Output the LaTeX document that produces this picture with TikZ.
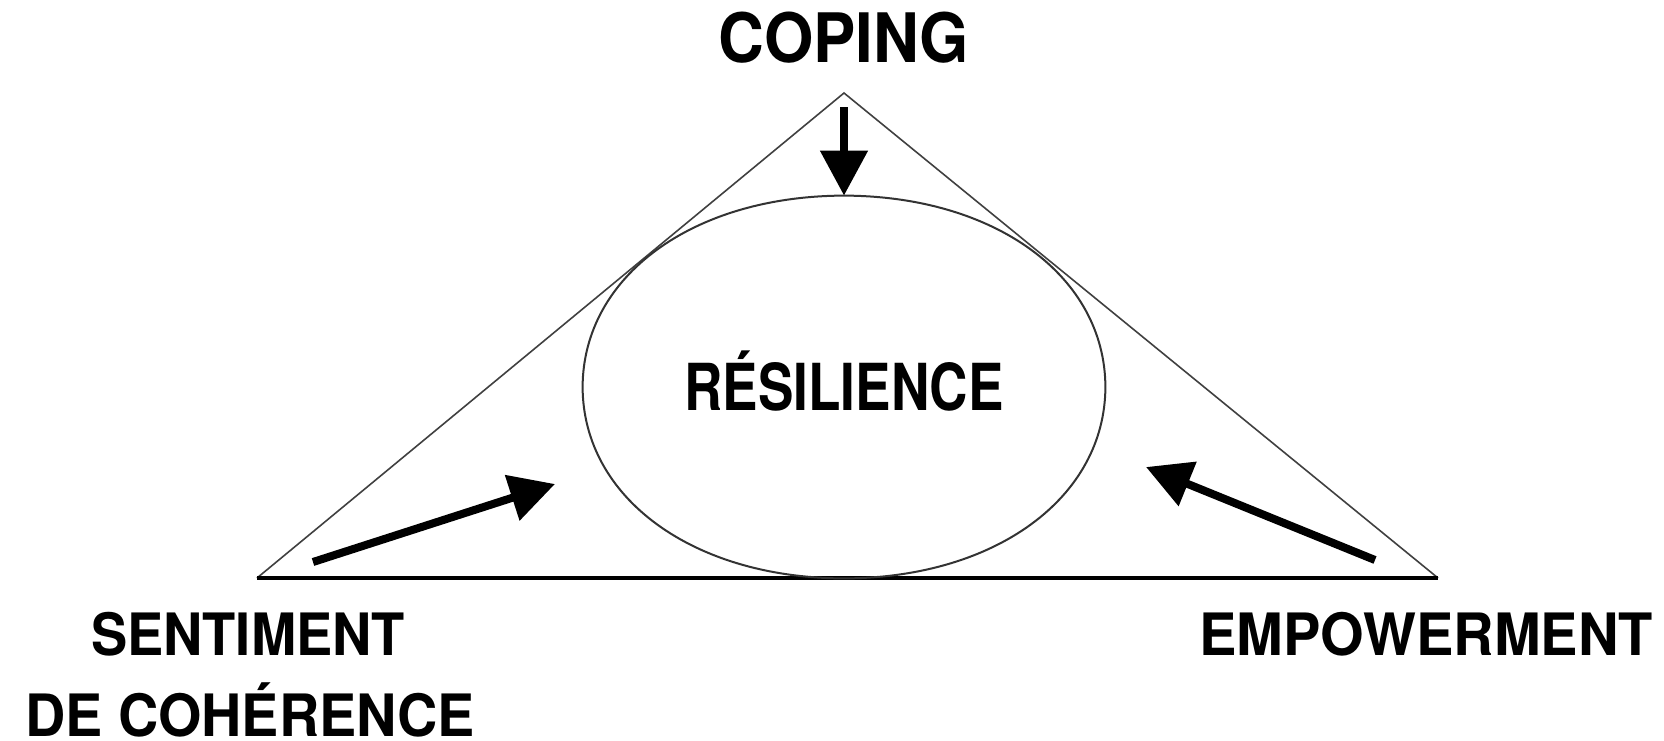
\documentclass[tikz,border=0pt]{standalone}
\usepackage{fontspec}
\usepackage{graphicx}
\newfontfamily\herosb{TeX Gyre Heros}[BoldFont=* Bold]
\usetikzlibrary{arrows.meta,shapes.geometric}
\tikzset{
  lbl/.style={inner sep=0pt, anchor=base},
  side/.style={line width=0.8pt, draw=black!75},
  baseln/.style={line width=1.7pt, draw=black},
  outline/.style={line width=1pt, draw=black!80},
  thickarrow/.style={line width=4pt, -{Triangle[length=22.5pt,width=23pt]}},
  oval/.style={ellipse, inner sep=0pt,
    minimum width=261pt, minimum height=191pt, text height=23.3pt, text depth=0pt}
}
\begin{document}
\begin{tikzpicture}[x=0.5pt,y=-0.5pt]
\useasboundingbox (0,0) rectangle (1664,740);
% triangle corners
\coordinate (A) at (844,93);
\coordinate (L) at (257,578);
\coordinate (R) at (1438,578);
\draw[side] (L) -- (A) -- (R);
\draw[baseln] (L) -- (R);
% ellipse
\node[oval, font=\herosb\bfseries\fontsize{32.4}{36}\selectfont] (res) at (844,387)
  {\scalebox{0.82}[1]{RÉSILIENCE}};
\draw[outline] (res.east) .. controls (1105,276.2) and (995.4,196) .. (res.north)
  .. controls (692.6,196) and (583,276.2) .. (res.west)
  .. controls (583,497.8) and (692.6,578) .. (res.south)
  .. controls (995.4,578) and (1105,497.8) .. (res.east) -- cycle;
% labels
\node[lbl, font=\herosb\bfseries\fontsize{34.1}{40}\selectfont] (coping) at (844,62)
  {\scalebox{0.93}[1]{COPING}};
\node[lbl, font=\herosb\bfseries\fontsize{29.2}{34}\selectfont] (sent) at (248,655)
  {\scalebox{0.93}[1]{SENTIMENT}};
\node[lbl, font=\herosb\bfseries\fontsize{29.2}{34}\selectfont] (coh) at (250,736)
  {\scalebox{0.955}[1]{DE COHÉRENCE}};
\node[lbl, font=\herosb\bfseries\fontsize{29.2}{34}\selectfont] (emp) at (1426,655)
  {\scalebox{0.96}[1]{EMPOWERMENT}};
% arrows
\coordinate (cs) at (844,107);
\coordinate (ss) at (313,562);
\coordinate (st) at (555,484);
\coordinate (es) at (1375,560);
\coordinate (et) at (1146,467);
\draw[thickarrow] (cs) -- (res.north);
\draw[thickarrow] (ss) -- (st);
\draw[thickarrow] (es) -- (et);
\end{tikzpicture}
\end{document}
